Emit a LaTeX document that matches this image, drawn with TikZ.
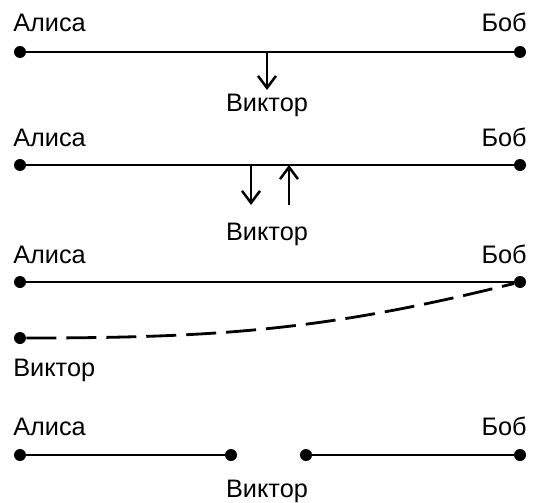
\documentclass[tikz,border=0pt]{standalone}
\usepackage{fontspec}
\setmainfont{Liberation Sans}
\usepackage{tikz,xcolor}
\usetikzlibrary{arrows.meta}

\tikzset{
  pt/.style={circle,fill=black,inner sep=0pt,minimum size=0.3cm},
  wire/.style={black,line width=2pt},
  dashwire/.style={black,line width=2pt,dash pattern=on 0.75cm off 0.25cm},
  arr/.style={black,line width=1.8pt,-{Straight Barb[length=0.3cm,width=0.45cm,line width=1.8pt]}},
  lbl/.style={inner sep=0pt,font=\fontsize{18}{20}\selectfont}
}

\begin{document}
\begin{tikzpicture}
\useasboundingbox (0,0) rectangle (13.55,12.55);
% first row
\node[pt] (a1) at (0.5,11.25) {};
\node[pt] (b1) at (13,11.25) {};
\node[lbl,anchor=base west] (la1) at (0.325,11.75) {Алиса};
\node[lbl,anchor=base east] (lb1) at (13.175,11.75) {Боб};
\node[lbl,anchor=base] (lv1) at (6.675,9.75) {Виктор};
\draw[wire] (a1) -- (b1);
\coordinate (m1) at (6.675,11.25);
\coordinate (t1) at (6.675,10.3);
\draw[arr] (m1) -- (t1);
%
% second row
\node[pt] (a2) at (0.5,8.425) {};
\node[pt] (b2) at (13,8.425) {};
\node[lbl,anchor=base west] (la2) at (0.325,8.875) {Алиса};
\node[lbl,anchor=base east] (lb2) at (13.175,8.875) {Боб};
\node[lbl,anchor=base] (lv2) at (6.675,6.55) {Виктор};
\draw[wire] (a2) -- (b2);
\coordinate (m2) at (6.275,8.425);
\coordinate (t2) at (6.275,7.425);
\coordinate (m3) at (7.225,8.425);
\coordinate (t3) at (7.225,7.425);
\draw[arr] (m2) -- (t2);
\draw[arr] (t3) -- (m3);
%
% third row
\node[pt] (a3) at (0.5,5.5) {};
\node[pt] (b3) at (13,5.5) {};
\node[pt] (v3) at (0.5,4.1) {};
\node[lbl,anchor=base west] (la3) at (0.325,5.975) {Алиса};
\node[lbl,anchor=base east] (lb3) at (13.175,5.975) {Боб};
\node[lbl,anchor=base west] (lv3) at (0.325,3.15) {Виктор};
\draw[wire] (a3) -- (b3);
\draw[dashwire] (v3) to[out=0,in=194] (b3);
%
% fourth row
\node[pt] (a4) at (0.5,1.175) {};
\node[pt] (c4) at (5.775,1.175) {};
\node[pt] (d4) at (7.65,1.175) {};
\node[pt] (b4) at (13,1.175) {};
\node[lbl,anchor=base west] (la4) at (0.325,1.675) {Алиса};
\node[lbl,anchor=base east] (lb4) at (13.175,1.675) {Боб};
\node[lbl,anchor=base] (lv4) at (6.675,0.125) {Виктор};
\draw[wire] (a4) -- (c4);
\draw[wire] (d4) -- (b4);
\end{tikzpicture}
\end{document}
